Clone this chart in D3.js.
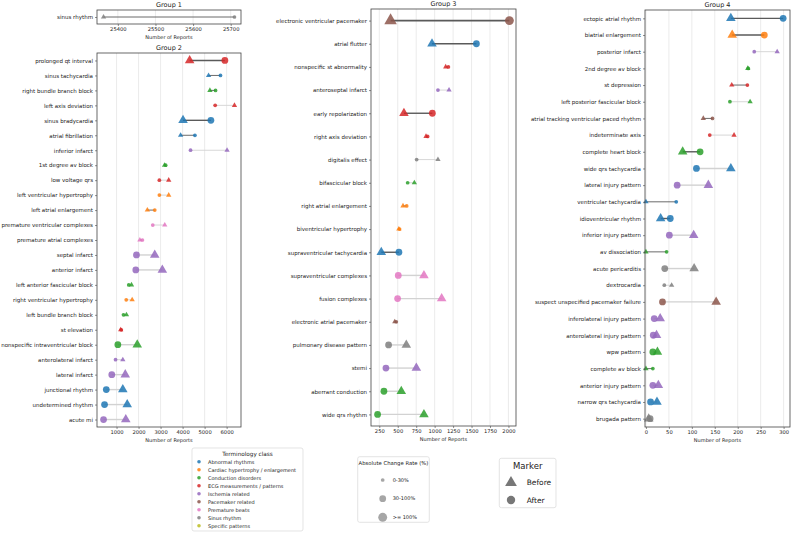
<!DOCTYPE html>
<html>
<head>
<meta charset="utf-8">
<script src="https://cdn.jsdelivr.net/npm/d3@7"></script>
<style>
  body { margin: 0; background: #fff; }
  svg { display: block; font-family: "DejaVu Sans", sans-serif; }
</style>
</head>
<body>
<svg id="chart" width="792" height="533"></svg>
<script>
// terminology classes (legend order)
var classKeys = ["AR", "CH", "CD", "ECG", "IS", "PM", "PB", "SR", "SP"];
var classNames = ["Abnormal rhythms", "Cardiac hypertrophy / enlargement", "Conduction disorders",
    "ECG measurements / patterns", "Ischemia related", "Pacemaker related", "Premature beats",
    "Sinus rhythm", "Specific patterns"];

// group 1
var g1Terms = ["sinus rhythm"];
var g1Class = ["SR"];
var g1Before = [25362];
var g1After = [25710];
var g1Ticks = [25400, 25500, 25600, 25700];

// group 2
var g2Terms = ["prolonged qt interval", "sinus tachycardia", "right bundle branch block", "left axis deviation",
    "sinus bradycardia", "atrial fibrillation", "inferior infarct", "1st degree av block", "low voltage qrs",
    "left ventricular hypertrophy", "left atrial enlargement", "premature ventricular complexes",
    "premature atrial complexes", "septal infarct", "anterior infarct", "left anterior fascicular block",
    "right ventricular hypertrophy", "left bundle branch block", "st elevation",
    "nonspecific intraventricular block", "anterolateral infarct", "lateral infarct", "junctional rhythm",
    "undetermined rhythm", "acute mi"];
var g2Class = ["ECG", "AR", "CD", "ECG", "AR", "AR", "IS", "CD", "ECG", "CH", "CH", "PB", "PB", "IS", "IS",
    "CD", "CH", "CD", "ECG", "CD", "IS", "IS", "AR", "AR", "IS"];
var g2Before = [4320, 5180, 5240, 6355, 4020, 3910, 6020, 3180, 3370, 3370, 2400, 3190, 2060, 2735, 3080,
    1680, 1710, 1450, 1190, 1940, 1285, 1395, 1285, 1485, 1420];
var g2After = [5920, 5720, 5495, 5480, 5285, 4560, 4360, 3230, 2945, 2945, 2735, 2645, 2175, 1905, 1875,
    1555, 1440, 1315, 1215, 1060, 955, 785, 535, 455, 410];
var g2Ticks = [1000, 2000, 3000, 4000, 5000, 6000];

// group 3
var g3Terms = ["electronic ventricular pacemaker", "atrial flutter", "nonspecific st abnormality",
    "anteroseptal infarct", "early repolarization", "right axis deviation", "digitalis effect",
    "bifascicular block", "right atrial enlargement", "biventricular hypertrophy",
    "supraventricular tachycardia", "supraventricular complexes", "fusion complexes",
    "electronic atrial pacemaker", "pulmonary disease pattern", "stemi", "aberrant conduction",
    "wide qrs rhythm"];
var g3Class = ["PM", "AR", "ECG", "IS", "ECG", "ECG", "SR", "CD", "CH", "CH", "AR", "PB", "PB", "PM", "SR",
    "IS", "CD", "CD"];
var g3Before = [403, 964, 1150, 1195, 584, 883, 1045, 725, 571, 515, 277, 855, 1095, 460, 616, 752, 548, 855];
var g3After = [2013, 1566, 1186, 1045, 969, 905, 756, 634, 621, 525, 516, 507, 498, 480, 376, 340, 313, 227];
var g3Ticks = [250, 500, 750, 1000, 1250, 1500, 1750, 2000];

// group 4
var g4Terms = ["ectopic atrial rhythm", "biatrial enlargement", "posterior infarct", "2nd degree av block",
    "st depression", "left posterior fascicular block", "atrial tracking ventricular paced rhythm",
    "indeterminate axis", "complete heart block", "wide qrs tachycardia", "lateral injury pattern",
    "ventricular tachycardia", "idioventricular rhythm", "inferior injury pattern", "av dissociation",
    "acute pericarditis", "dextrocardia", "suspect unspecified pacemaker failure",
    "inferolateral injury pattern", "anterolateral injury pattern", "wpw pattern", "complete av block",
    "anterior injury pattern", "narrow qrs tachycardia", "brugada pattern"];
var g4Class = ["AR", "CH", "IS", "CD", "ECG", "CD", "PM", "ECG", "CD", "AR", "IS", "AR", "AR", "IS", "CD",
    "SR", "SR", "PM", "IS", "IS", "CD", "CD", "IS", "AR", "SR"];
var g4Before = [185, 188, 286, 222, 187, 227, 125, 192, 80, 185, 136, 0, 32, 104, 0, 105, 56, 153, 31, 23,
    25, 0, 27, 24, 6];
var g4After = [299, 258, 236, 223, 221, 183, 145, 139, 118, 110, 68, 66, 53, 51, 45, 41, 40, 36, 18, 16,
    15, 15, 15, 10, 9];
var g4Ticks = [0, 50, 100, 150, 200, 250, 300];

// change rate bins
var rateBreaks = [30, 100];
var rateLabels = ["0-30%", "30-100%", ">= 100%"];

var markerArea = [11, 36, 62];
var lineWidth = [0.9, 1.4, 1.9];
var color = d3.scaleOrdinal().domain(classKeys).range(d3.schemeCategory10);

var svg = d3.select("#chart");

var panels = [
    { title: "Group 1", terms: g1Terms, cls: g1Class, before: g1Before, after: g1After, ticks: g1Ticks,
      x0: 97, x1: 241, y0: 10, y1: 24 },
    { title: "Group 2", terms: g2Terms, cls: g2Class, before: g2Before, after: g2After, ticks: g2Ticks,
      x0: 97, x1: 241, y0: 53, y1: 427 },
    { title: "Group 3", terms: g3Terms, cls: g3Class, before: g3Before, after: g3After, ticks: g3Ticks,
      x0: 371, x1: 516, y0: 9, y1: 426 },
    { title: "Group 4", terms: g4Terms, cls: g4Class, before: g4Before, after: g4After, ticks: g4Ticks,
      x0: 645, x1: 790, y0: 10, y1: 427, leftPad: 0.007 }
];

function rateBin(b, a) {
    var r = Math.abs(a - b) / b * 100;
    if (!isFinite(r)) return 0;
    if (r < rateBreaks[0]) return 0;
    if (r < rateBreaks[1]) return 1;
    return 2;
}

panels.forEach(function (p) {
    var rows = p.terms.map(function (t, i) {
        return { term: t, cls: p.cls[i], before: p.before[i], after: p.after[i],
                 bin: rateBin(p.before[i], p.after[i]) };
    });

    var lo = d3.min(rows, function (d) { return Math.min(d.before, d.after); });
    var hi = d3.max(rows, function (d) { return Math.max(d.before, d.after); });
    var pad = (hi - lo) * 0.05;
    var leftPad = p.leftPad != null ? (hi - lo) * p.leftPad : pad;

    var x = d3.scaleLinear().domain([lo - leftPad, hi + pad]).range([p.x0, p.x1]);
    var y = d3.scalePoint().domain(p.terms).range([p.y0, p.y1]).padding(0.5);

    var g = svg.append("g");

    // grid
    g.selectAll(".grid")
        .data(p.ticks)
        .enter()
        .append("line")
        .attr("x1", function (d) { return x(d); })
        .attr("x2", function (d) { return x(d); })
        .attr("y1", p.y0)
        .attr("y2", p.y1)
        .attr("stroke", "#e2e2e2")
        .attr("stroke-width", 0.7);

    // connectors
    g.selectAll(".conn")
        .data(rows)
        .enter()
        .append("line")
        .attr("x1", function (d) { return x(d.before); })
        .attr("x2", function (d) { return x(d.after); })
        .attr("y1", function (d) { return y(d.term); })
        .attr("y2", function (d) { return y(d.term); })
        .attr("stroke", function (d) { return d.after > d.before ? "#5a5a5a" : "#d2d2d2"; })
        .attr("stroke-width", function (d) { return lineWidth[d.bin]; });

    // before = triangle
    g.selectAll(".before")
        .data(rows)
        .enter()
        .append("path")
        .attr("d", function (d) { return d3.symbol().type(d3.symbolTriangle).size(markerArea[d.bin] * 1.1)(); })
        .attr("transform", function (d) { return "translate(" + x(d.before) + "," + y(d.term) + ")"; })
        .attr("fill", function (d) { return color(d.cls); })
        .attr("fill-opacity", 0.85);

    // after = circle
    g.selectAll(".after")
        .data(rows)
        .enter()
        .append("circle")
        .attr("cx", function (d) { return x(d.after); })
        .attr("cy", function (d) { return y(d.term); })
        .attr("r", function (d) { return Math.sqrt(markerArea[d.bin] / Math.PI); })
        .attr("fill", function (d) { return color(d.cls); })
        .attr("fill-opacity", 0.85);

    // frame
    g.append("rect")
        .attr("x", p.x0)
        .attr("y", p.y0)
        .attr("width", p.x1 - p.x0)
        .attr("height", p.y1 - p.y0)
        .attr("fill", "none")
        .attr("stroke", "#444")
        .attr("stroke-width", 0.8);

    var yAxis = g.append("g")
        .attr("transform", "translate(" + p.x0 + ",0)")
        .call(d3.axisLeft(y).tickSize(2).tickPadding(2));
    yAxis.select(".domain").remove();
    yAxis.selectAll("line").attr("stroke", "#444").attr("stroke-width", 0.6);
    yAxis.selectAll("text")
        .style("font-size", "5.5px")
        .style("fill", "#222")
        .style("font-family", "DejaVu Sans");

    var xAxis = g.append("g")
        .attr("transform", "translate(0," + p.y1 + ")")
        .call(d3.axisBottom(x).tickValues(p.ticks).tickSize(2).tickPadding(1.5).tickFormat(d3.format("d")));
    xAxis.select(".domain").remove();
    xAxis.selectAll("line").attr("stroke", "#444").attr("stroke-width", 0.6);
    xAxis.selectAll("text")
        .style("font-size", "5.2px")
        .style("fill", "#222")
        .style("font-family", "DejaVu Sans");

    g.append("text")
        .attr("x", (p.x0 + p.x1) / 2)
        .attr("y", p.y1 + 15)
        .attr("text-anchor", "middle")
        .style("font-size", "5px")
        .style("fill", "#222")
        .text("Number of Reports");

    g.append("text")
        .attr("x", (p.x0 + p.x1) / 2)
        .attr("y", p.y0 - 3.3)
        .attr("text-anchor", "middle")
        .style("font-size", "6.5px")
        .style("fill", "#222")
        .text(p.title);
});

// legend: terminology class
var lg1 = svg.append("g");
lg1.append("rect")
    .attr("x", 192).attr("y", 448).attr("width", 111).attr("height", 83).attr("rx", 2)
    .attr("fill", "#fff").attr("stroke", "#d8d8d8").attr("stroke-width", 0.7);
lg1.append("text")
    .attr("x", 247.5).attr("y", 455.5).attr("text-anchor", "middle")
    .style("font-size", "5.7px").style("fill", "#222")
    .text("Terminology class");
lg1.selectAll(".item")
    .data(classKeys)
    .enter()
    .append("circle")
    .attr("cx", 199)
    .attr("cy", function (d, i) { return 461.7 + i * 8; })
    .attr("r", 1.8)
    .attr("fill", function (d) { return color(d); })
    .attr("fill-opacity", 0.85);
lg1.selectAll(".lbl")
    .data(classNames)
    .enter()
    .append("text")
    .attr("x", 208)
    .attr("y", function (d, i) { return 461.7 + i * 8 + 1.8; })
    .style("font-size", "5px")
    .style("fill", "#222")
    .text(function (d) { return d; });

// legend: change rate
var lg2 = svg.append("g");
lg2.append("rect")
    .attr("x", 357.7).attr("y", 456.7).attr("width", 71.6).attr("height", 65.6).attr("rx", 2)
    .attr("fill", "#fff").attr("stroke", "#d8d8d8").attr("stroke-width", 0.7);
lg2.append("text")
    .attr("x", 393.5).attr("y", 465.2).attr("text-anchor", "middle")
    .style("font-size", "5.3px").style("fill", "#222")
    .text("Absolute Change Rate (%)");
lg2.selectAll(".item")
    .data(rateLabels)
    .enter()
    .append("circle")
    .attr("cx", 382.7)
    .attr("cy", function (d, i) { return 480 + i * 18.65; })
    .attr("r", function (d, i) { return Math.sqrt(markerArea[i] / Math.PI); })
    .attr("fill", "#a6a6a6");
lg2.selectAll(".lbl")
    .data(rateLabels)
    .enter()
    .append("text")
    .attr("x", 392.7)
    .attr("y", function (d, i) { return 480 + i * 18.65 + 1.8; })
    .style("font-size", "5px")
    .style("fill", "#222")
    .text(function (d) { return d; });

// legend: marker
var lg3 = svg.append("g");
lg3.append("rect")
    .attr("x", 499.3).attr("y", 458.3).attr("width", 56.7).attr("height", 49.4).attr("rx", 2)
    .attr("fill", "#fff").attr("stroke", "#d8d8d8").attr("stroke-width", 0.7);
lg3.append("text")
    .attr("x", 527.7).attr("y", 469).attr("text-anchor", "middle")
    .style("font-size", "8.5px").style("fill", "#222")
    .text("Marker");
lg3.append("path")
    .attr("d", d3.symbol().type(d3.symbolTriangle).size(60)())
    .attr("transform", "translate(511,482.7)")
    .attr("fill", "#777");
lg3.append("circle")
    .attr("cx", 511).attr("cy", 500).attr("r", 4.2)
    .attr("fill", "#777");
lg3.append("text")
    .attr("x", 526.7).attr("y", 485.4)
    .style("font-size", "7.5px").style("fill", "#222")
    .text("Before");
lg3.append("text")
    .attr("x", 526.7).attr("y", 502.7)
    .style("font-size", "7.5px").style("fill", "#222")
    .text("After");
</script>
</body>
</html>
